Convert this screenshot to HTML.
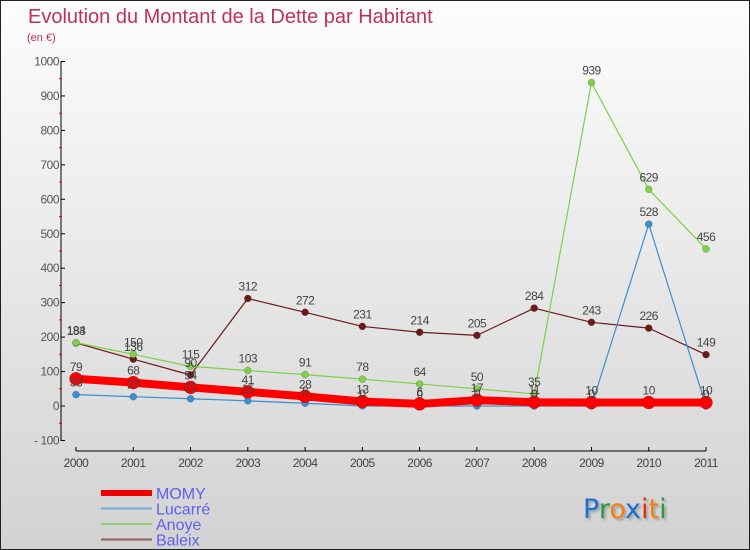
<!DOCTYPE html>
<html><head><meta charset="utf-8"><style>
body{margin:0;}
#wrap{position:relative;width:750px;height:550px;overflow:hidden;box-sizing:border-box;border:1px solid #222;background:linear-gradient(#fdfdfd,#d2d2d2);font-family:"Liberation Sans",sans-serif;}
</style></head><body>
<div id="wrap">
<svg id="chart" width="750" height="550" style="position:absolute;left:0;top:0"></svg>
</div>
<script>
const years=["2000","2001","2002","2003","2004","2005","2006","2007","2008","2009","2010","2011"];
const momy=[79,68,54,41,28,13,6,17,11,10,10,10];
const lucarre=[33,27,21,15,8,0,0,0,0,0,528,0];
const anoye=[184,150,115,103,91,78,64,50,35,939,629,456];
const baleix=[183,136,90,312,272,231,214,205,284,243,226,149];
const yTicks=[-100,0,100,200,300,400,500,600,700,800,900,1000];
const NS="http://www.w3.org/2000/svg";
const svg=document.getElementById('chart');
function x(i){return 75+i*(630/11);}
function y(v){return 405-v*0.3445;}
function el(t,a,txt){const e=document.createElementNS(NS,t);for(const k in a)e.setAttribute(k,a[k]);if(txt!==undefined)e.textContent=txt;svg.appendChild(e);return e;}
let e;
e=el('text',{x:27,y:22,'font-size':20,fill:'#c0315a','font-family':'Liberation Sans, sans-serif'},'Evolution du Montant de la Dette par Habitant');

e=el('text',{x:26,y:40,'font-size':11,fill:'#c0315a'},'(en €)');

e=el('line',{x1:60,y1:60,x2:60,y2:440,stroke:'#000','stroke-width':1});

yTicks.forEach(v=>{
 const t=el('line',{x1:60,y1:y(v),x2:64,y2:y(v),stroke:'#000'});
 
 if(v<1000){
 const m=el('line',{x1:58,y1:y(v+50),x2:61,y2:y(v+50),stroke:'#e00'});
 
 }
 const l=el('text',{x:58,y:y(v)+4,'font-size':12,fill:'#555','text-anchor':'end','letter-spacing':'-0.5'},v<0?'- '+(-v):String(v));
 
});
e=el('line',{x1:75,y1:450,x2:705,y2:450,stroke:'#000'});

years.forEach((yr,i)=>{
 const t=el('line',{x1:x(i),y1:446,x2:x(i),y2:450,stroke:'#000'});
 
 const l=el('text',{x:x(i),y:466,'font-size':12,fill:'#444','text-anchor':'middle','letter-spacing':'-0.5'},yr);
 
});
function series(data,color,w,r,name){
 const pts=data.map((v,i)=>x(i)+','+y(v)).join(' ');
 const p=el('polyline',{points:pts,fill:'none',stroke:color,'stroke-width':w,'stroke-linejoin':'round'});
 
 data.forEach((v,i)=>{
  const c=el('circle',{cx:x(i),cy:y(v),r:r,fill:color,stroke:'rgba(0,0,0,0.3)','stroke-width':0.5});
  
 });
}
function labels(data,name){
 data.forEach((v,i)=>{
  const t=el('text',{x:x(i),y:y(v)-8,'font-size':12,fill:'#444','text-anchor':'middle','letter-spacing':'-0.5'},String(v));
  
 });
}
series(baleix,'#6b1a1a',1.2,3.5,'baleix');
series(anoye,'#7ed04a',1.2,3.5,'anoye');
series(lucarre,'#3a8fd0',1.2,3.5,'lucarre');
series(momy,'#f00',8,6.5,'momy');
labels(baleix,'baleix');labels(anoye,'anoye');labels(lucarre,'lucarre');labels(momy,'momy');
const leg=[['MOMY','#e00',6],['Lucarré','#7aaad0',2],['Anoye','#90d070',2],['Baleix','#906060',2]];
leg.forEach((L,i)=>{
 const yy=492+i*15.5;
 const s=el('line',{x1:100,y1:yy,x2:151,y2:yy,stroke:L[1],'stroke-width':L[2]});
 
 const t=el('text',{x:155,y:yy+6,'font-size':16,fill:'#6060f0'},L[0]);
 
});
const logo=el('text',{x:582,y:517,'font-size':27,'font-family':'DejaVu Sans, sans-serif',style:'filter:drop-shadow(2px 2px 1px rgba(0,0,0,0.25))'});

[['P','#1a6fd0'],['r','#2a9a3a'],['o','#f08010'],['x','#1a6fd0'],['i','#e03010'],['t','#f08010'],['i','#2a9a3a']].forEach(c=>{
 const ts=document.createElementNS(NS,'tspan');ts.setAttribute('fill',c[1]);ts.textContent=c[0];logo.appendChild(ts);
});
</script>
</body></html>
